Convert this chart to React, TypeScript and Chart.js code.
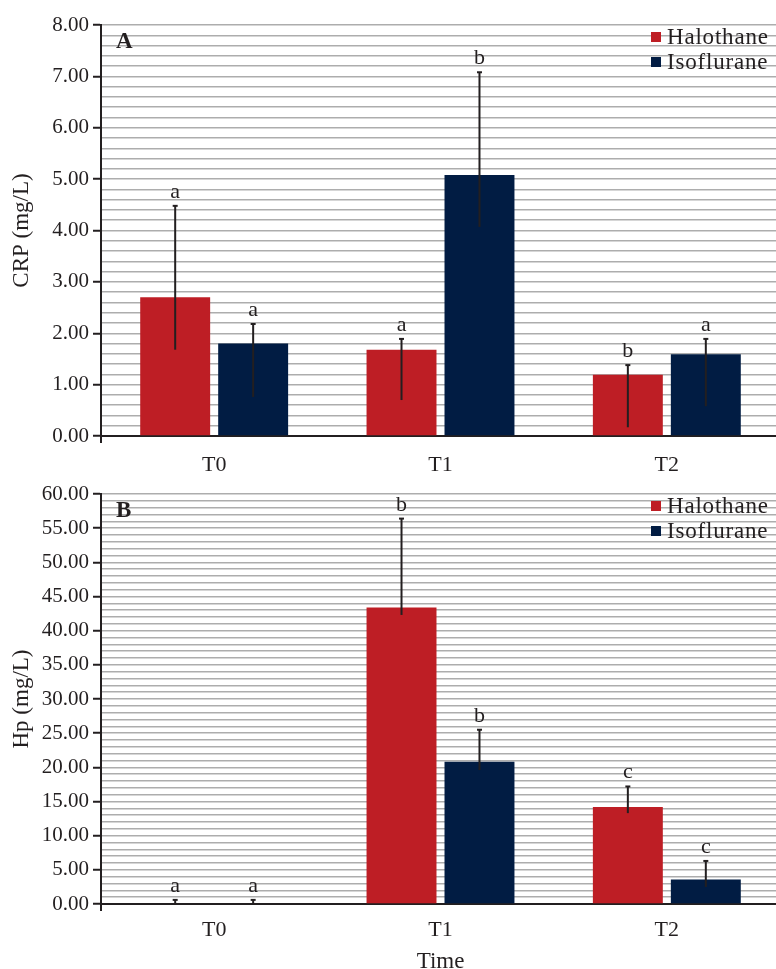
import React, { useEffect, useRef } from 'react';
import { Chart, registerables } from 'chart.js';

Chart.register(...registerables);

// ---------- data ----------
const categories = ['T0', 'T1', 'T2'];
const seriesNames = ['Halothane', 'Isoflurane'];

// Panel A: CRP (mg/L)
const crpHalothane = [2.7, 1.68, 1.19];
const crpHalothaneLow = [1.68, 0.7, 0.17];
const crpHalothaneHigh = [4.48, 1.89, 1.38];
const crpHalothaneLetters = ['a', 'a', 'b'];
const crpIsoflurane = [1.8, 5.08, 1.59];
const crpIsofluraneLow = [0.76, 4.07, 0.58];
const crpIsofluraneHigh = [2.18, 7.08, 1.89];
const crpIsofluraneLetters = ['a', 'b', 'a'];

// Panel B: Hp (mg/L)
const hpHalothane = [0, 43.4, 14.2];
const hpHalothaneLow = [0, 42.3, 13.3];
const hpHalothaneHigh = [0.6, 56.4, 17.2];
const hpHalothaneLetters = ['a', 'b', 'c'];
const hpIsoflurane = [0, 20.8, 3.6];
const hpIsofluraneLow = [0, 19.6, 2.5];
const hpIsofluraneHigh = [0.6, 25.5, 6.3];
const hpIsofluraneLetters = ['a', 'b', 'c'];

// ---------- styles ----------
const FONT = '"Liberation Serif", "Times New Roman", serif';
const RED = '#BE1E25';
const NAVY = '#011C43';
const INK = '#231F20';
const GRID = '#ADADAD';

function isMajor(v: number, step: number) {
  const r = v / step;
  return Math.abs(r - Math.round(r)) < 1e-6;
}

function makePlugins(panelLabel: string, lows: number[][], highs: number[][], letters: string[][]) {
  return [
    {
      id: 'errorBars',
      afterDatasetsDraw(chart: any) {
        const ctx = chart.ctx;
        const ys = chart.scales.y;
        ctx.save();
        chart.data.datasets.forEach((_ds: any, i: number) => {
          const meta = chart.getDatasetMeta(i);
          meta.data.forEach((bar: any, j: number) => {
            const x = bar.x;
            const yl = ys.getPixelForValue(lows[i][j]);
            const yh = ys.getPixelForValue(highs[i][j]);
            ctx.strokeStyle = INK;
            ctx.lineWidth = 2;
            ctx.beginPath();
            ctx.moveTo(x, yl);
            ctx.lineTo(x, yh);
            ctx.stroke();
            ctx.beginPath();
            ctx.moveTo(x - 2.5, yh);
            ctx.lineTo(x + 2.5, yh);
            ctx.stroke();
            ctx.fillStyle = INK;
            ctx.font = `22px ${FONT}`;
            ctx.textAlign = 'center';
            ctx.textBaseline = 'alphabetic';
            ctx.fillText(letters[i][j], x, yh - 8);
          });
        });
        ctx.restore();
      },
    },
    {
      id: 'decor',
      afterDraw(chart: any) {
        const ctx = chart.ctx;
        const area = chart.chartArea;
        ctx.save();
        // y axis extension below x axis
        ctx.strokeStyle = INK;
        ctx.lineWidth = 2;
        ctx.beginPath();
        ctx.moveTo(area.left, area.bottom);
        ctx.lineTo(area.left, area.bottom + 7);
        ctx.stroke();
        // panel label
        ctx.fillStyle = INK;
        ctx.font = `bold 23px ${FONT}`;
        ctx.textAlign = 'left';
        ctx.textBaseline = 'alphabetic';
        ctx.fillText(panelLabel, area.left + 15, area.top + 23);
        // legend
        const colors = [RED, NAVY];
        ctx.font = `23px ${FONT}`;
        try { (ctx as any).letterSpacing = '0.8px'; } catch (e) {}
        seriesNames.forEach((name, k) => {
          const top = area.top + 7 + k * 25;
          ctx.fillStyle = colors[k];
          ctx.fillRect(651, top, 10, 10);
          ctx.fillStyle = INK;
          ctx.fillText(name, 667, top + 12);
        });
        ctx.restore();
      },
    },
  ];
}

function makeConfig(opts: {
  hal: number[];
  iso: number[];
  yMax: number;
  minor: number;
  major: number;
  yTitle: string;
  xTitle: string | null;
  topPad: number;
  xHeight: number;
  xTickPad: number;
  panelLabel: string;
  lows: number[][];
  highs: number[][];
  letters: string[][];
}): any {
  return {
    type: 'bar',
    data: {
      labels: categories,
      datasets: [
        {
          label: seriesNames[0],
          data: opts.hal,
          backgroundColor: RED,
          borderWidth: 0,
          categoryPercentage: 0.689,
          barPercentage: 0.897,
        },
        {
          label: seriesNames[1],
          data: opts.iso,
          backgroundColor: NAVY,
          borderWidth: 0,
          categoryPercentage: 0.689,
          barPercentage: 0.897,
        },
      ],
    },
    options: {
      animation: false,
      responsive: false,
      devicePixelRatio: 1,
      layout: { padding: { top: opts.topPad, left: 0, right: 0, bottom: 0 } },
      plugins: { legend: { display: false }, tooltip: { enabled: false } },
      scales: {
        x: {
          offset: true,
          grid: { display: false, drawTicks: false },
          border: { display: true, color: INK, width: 2 },
          ticks: { color: INK, font: { family: FONT, size: 22 }, padding: opts.xTickPad },
          title: opts.xTitle
            ? {
                display: true,
                text: opts.xTitle,
                color: INK,
                font: { family: FONT, size: 23, lineHeight: 1 },
                padding: { top: 0, bottom: 2.5 },
              }
            : { display: false },
          afterFit: (s: any) => {
            s.height = opts.xHeight;
          },
        },
        y: {
          min: 0,
          max: opts.yMax,
          ticks: {
            stepSize: opts.minor,
            maxTicksLimit: 200,
            autoSkip: false,
            padding: 4,
            color: INK,
            font: { family: FONT, size: 21 },
            callback: (v: number) => (isMajor(v, opts.major) ? Number(v).toFixed(2) : ''),
          },
          grid: {
            color: GRID,
            lineWidth: 1.5,
            drawTicks: true,
            tickLength: 8,
            tickWidth: 2,
            tickColor: (c: any) =>
              c.tick && isMajor(c.tick.value, opts.major) ? INK : 'rgba(0,0,0,0)',
          },
          border: { display: true, color: INK, width: 2 },
          title: {
            display: true,
            text: opts.yTitle,
            color: INK,
            font: { family: FONT, size: 23, lineHeight: 1 },
            padding: { top: 10, bottom: 0 },
          },
          afterFit: (s: any) => {
            s.width = 101;
            s.paddingTop = 0;
            s.paddingBottom = 0;
          },
        },
      },
    },
    plugins: makePlugins(opts.panelLabel, opts.lows, opts.highs, opts.letters),
  };
}

function ChartCanvas({ config, width, height, top }: { config: any; width: number; height: number; top: number }) {
  const ref = useRef<HTMLCanvasElement>(null);
  useEffect(() => {
    const chart = new Chart(ref.current as HTMLCanvasElement, config);
    return () => chart.destroy();
  }, []);
  return (
    <canvas
      ref={ref}
      width={width}
      height={height}
      style={{ position: 'absolute', left: 0, top, width, height, display: 'block' }}
    />
  );
}

export default function App() {
  const configA = makeConfig({
    hal: crpHalothane,
    iso: crpIsoflurane,
    yMax: 8,
    minor: 0.2,
    major: 1,
    yTitle: 'CRP (mg/L)',
    xTitle: null,
    topPad: 25,
    xHeight: 48,
    xTickPad: 16,
    panelLabel: 'A',
    lows: [crpHalothaneLow, crpIsofluraneLow],
    highs: [crpHalothaneHigh, crpIsofluraneHigh],
    letters: [crpHalothaneLetters, crpIsofluraneLetters],
  });
  const configB = makeConfig({
    hal: hpHalothane,
    iso: hpIsoflurane,
    yMax: 60,
    minor: 1,
    major: 5,
    yTitle: 'Hp (mg/L)',
    xTitle: 'Time',
    topPad: 10,
    xHeight: 72,
    xTickPad: 13,
    panelLabel: 'B',
    lows: [hpHalothaneLow, hpIsofluraneLow],
    highs: [hpHalothaneHigh, hpIsofluraneHigh],
    letters: [hpHalothaneLetters, hpIsofluraneLetters],
  });
  return (
    <div
      style={{
        position: 'absolute',
        left: 0,
        top: 0,
        width: 776,
        height: 969,
        overflow: 'hidden',
        background: '#fff',
      }}
    >
      <ChartCanvas config={configA} width={780} height={484} top={0} />
      <ChartCanvas config={configB} width={780} height={492} top={484} />
    </div>
  );
}
